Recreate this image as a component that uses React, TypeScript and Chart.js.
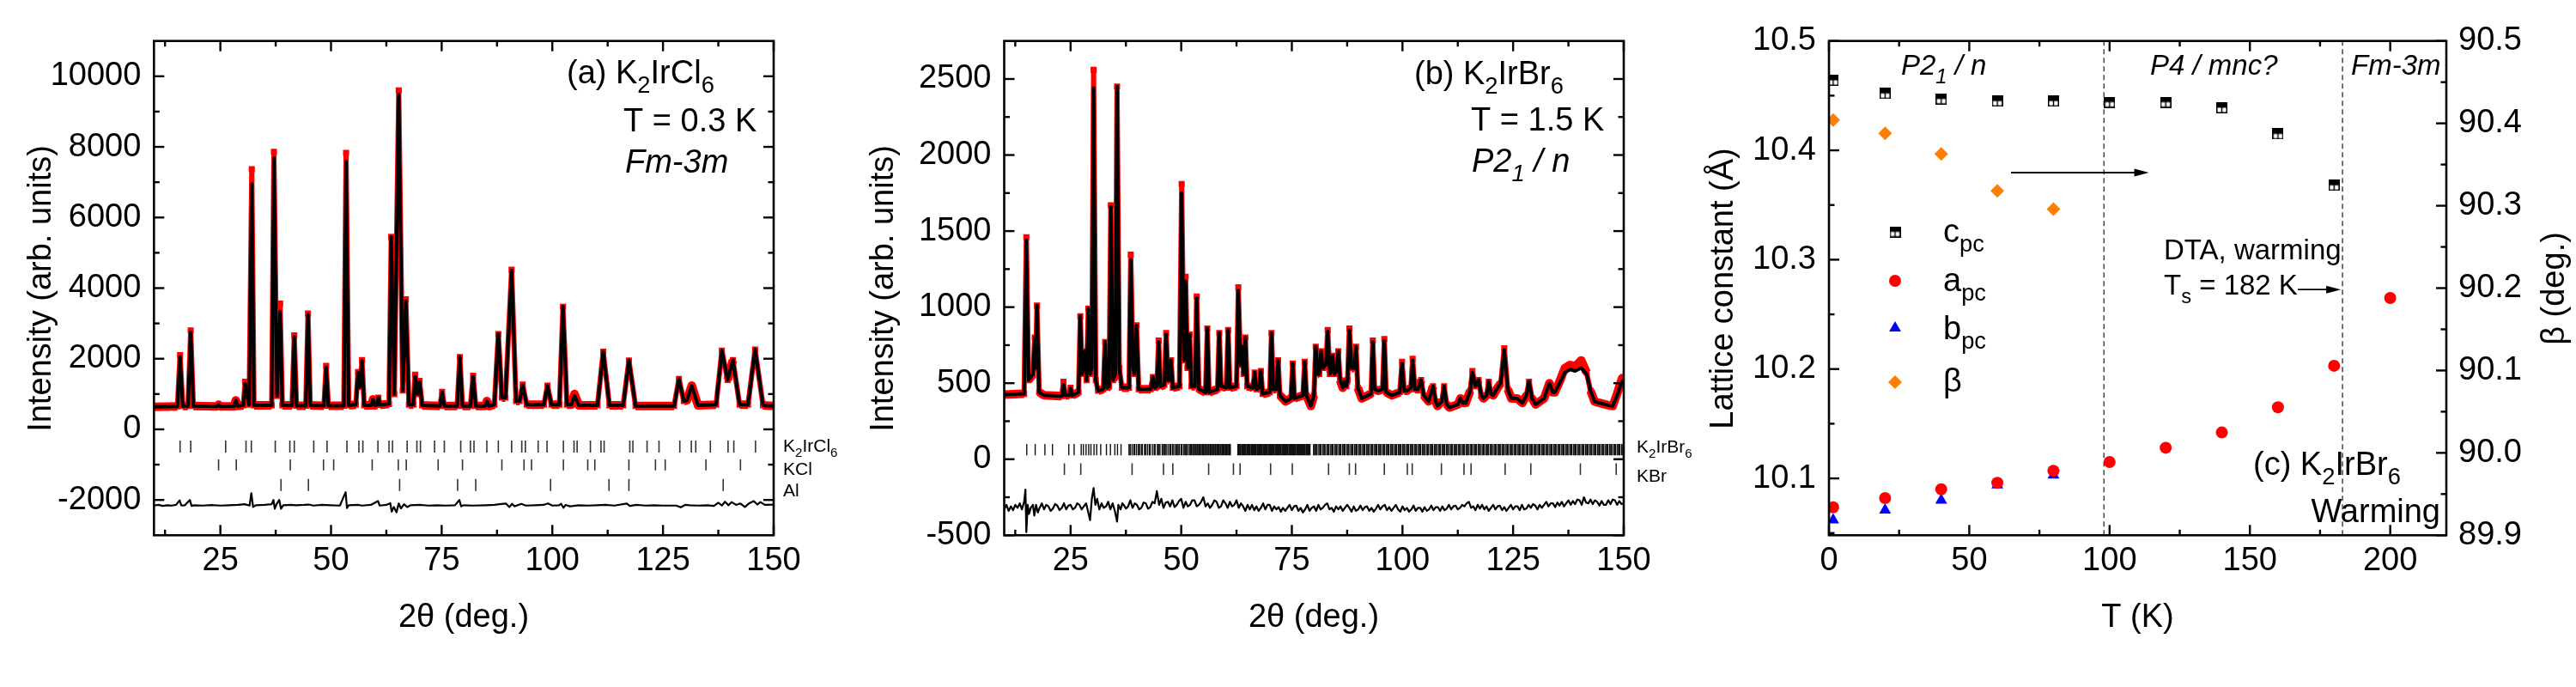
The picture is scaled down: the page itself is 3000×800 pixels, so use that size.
import React, { useEffect, useRef } from "react";
import { Chart, registerables } from "chart.js";
Chart.register(...registerables);

const FONT = "'Liberation Sans', Arimo, Arial, Helvetica, sans-serif";

// ---------------- Panel (a): K2IrCl6, T = 0.3 K ----------------
const calcA: [number, number][] = [
  [10, 640], [15.3, 650], [15.9, 2050], [16.5, 660], [17.7, 660], [18.3, 2750], [18.9, 660],
  [24.2, 650], [24.6, 700], [25.0, 650], [28.1, 650], [28.5, 820], [28.9, 660],
  [30.2, 680], [30.6, 1300], [31.1, 900], [31.5, 700], [32.1, 6950], [32.6, 680],
  [36.6, 680], [37.1, 7680], [37.8, 950], [38.5, 3340], [39.0, 680],
  [41.2, 680], [41.7, 2620], [42.2, 670], [44.3, 670], [44.8, 3250], [45.3, 680],
  [48.4, 670], [48.9, 1750], [49.4, 670], [52.9, 670], [53.4, 7580], [54.0, 680],
  [55.6, 700], [56.1, 1600], [56.5, 1200], [57.0, 1940], [57.5, 680],
  [59.1, 680], [59.5, 850], [59.9, 680], [60.4, 690], [60.7, 900], [61.1, 690],
  [63.1, 720], [63.6, 5450], [64.3, 1000], [65.3, 9480], [66.2, 1100], [66.9, 3640], [67.6, 700],
  [68.6, 700], [69.0, 1500], [69.5, 1000], [70.0, 1350], [70.6, 680],
  [74.6, 660], [75.1, 1050], [75.6, 660], [78.5, 660], [79.1, 2050], [79.7, 660],
  [81.5, 660], [82.1, 1500], [82.7, 660], [84.8, 660], [85.2, 800], [85.7, 660],
  [86.9, 700], [87.8, 2700], [88.6, 900], [89.4, 900], [90.8, 4500], [91.8, 800],
  [92.6, 800], [93.3, 1250], [94.2, 700], [98.1, 700], [98.9, 1230], [99.8, 700],
  [101.6, 700], [102.4, 3470], [103.3, 700], [104.3, 700], [105.0, 950], [106.0, 680],
  [110.2, 680], [111.5, 2200], [112.9, 680], [116.0, 680], [117.3, 1950], [118.8, 660],
  [127.5, 660], [128.6, 1430], [129.7, 800], [130.4, 820], [131.5, 1230], [132.9, 680],
  [137.0, 700], [138.3, 2230], [139.6, 1400], [140.8, 1960], [142.3, 700],
  [144.2, 700], [145.8, 2260], [147.6, 680], [150, 660],
];
const obsA: [number, number][] = [
  [10, 640], [15.3, 650], [15.9, 2100], [16.5, 660], [17.7, 660], [18.3, 2800], [18.9, 660],
  [24.2, 650], [24.6, 700], [25.0, 650], [28.1, 650], [28.5, 820], [28.9, 660],
  [30.2, 680], [30.6, 1350], [31.1, 900], [31.5, 700], [32.1, 7370], [32.6, 680],
  [36.6, 680], [37.1, 7860], [37.8, 950], [38.5, 3560], [39.0, 680],
  [41.2, 680], [41.7, 2660], [42.2, 670], [44.3, 670], [44.8, 3280], [45.3, 680],
  [48.4, 670], [48.9, 1800], [49.4, 670], [52.9, 670], [53.4, 7830], [54.0, 680],
  [55.6, 700], [56.1, 1620], [56.5, 1200], [57.0, 1960], [57.5, 680],
  [59.1, 680], [59.5, 850], [59.9, 680], [60.4, 690], [60.7, 900], [61.1, 690],
  [63.1, 720], [63.6, 5450], [64.3, 1000], [65.3, 9600], [66.2, 1100], [66.9, 3680], [67.6, 700],
  [68.6, 700], [69.0, 1550], [69.5, 1000], [70.0, 1370], [70.6, 680],
  [74.6, 660], [75.1, 1060], [75.6, 660], [78.5, 660], [79.1, 2050], [79.7, 660],
  [81.5, 660], [82.1, 1520], [82.7, 660], [84.8, 660], [85.2, 800], [85.7, 660],
  [86.9, 700], [87.8, 2700], [88.6, 900], [89.4, 900], [90.8, 4520], [91.8, 800],
  [92.6, 800], [93.3, 1270], [94.2, 700], [98.1, 700], [98.9, 1240], [99.8, 700],
  [101.6, 700], [102.4, 3470], [103.3, 700], [104.3, 700], [105.0, 1000], [106.0, 680],
  [110.2, 680], [111.5, 2200], [112.9, 680], [116.0, 680], [117.3, 1950], [118.8, 660],
  [127.5, 660], [128.6, 1430], [129.7, 800], [130.4, 820], [131.5, 1240], [132.9, 680],
  [137.0, 700], [138.3, 2230], [139.6, 1400], [140.8, 1960], [142.3, 700],
  [144.2, 700], [145.8, 2260], [147.6, 680], [150, 660],
];
const diffA: [number, number][] = [
  [10, -2160], [11, -2140], [12, -2170], [13, -2150], [14, -2160], [15, -2140], [15.8, -2010], [16.2, -2160],
  [17, -2150], [18.1, -2000], [18.5, -2170], [19, -2150], [21, -2160], [23, -2145], [25, -2160], [27, -2150],
  [29, -2140], [30.5, -2120], [31.6, -2160], [32.0, -1810], [32.4, -2200], [33, -2150], [35, -2140],
  [36.6, -2120], [37.0, -2000], [37.3, -2250], [37.7, -2120], [38.3, -2000], [38.7, -2250], [39.2, -2150],
  [41, -2140], [42, -2150], [44, -2140], [45, -2130], [46, -2160], [48, -2140], [50, -2150], [52, -2160],
  [53.3, -1780], [53.6, -2230], [54, -2150], [56, -2140], [57, -2160], [59, -2140], [60.6, -2030], [61, -2160],
  [62.5, -2140], [63.4, -2090], [63.7, -2330], [64.2, -2200], [64.8, -2350], [65.3, -2100], [65.8, -2240],
  [66.5, -2120], [67.2, -2200], [68, -2150], [70, -2140], [72, -2160], [74, -2150], [76, -2160], [78, -2150],
  [79, -2000], [79.4, -2180], [80, -2150], [82, -2160], [85, -2150], [87, -2140], [88, -2120], [89.5, -2100],
  [90.3, -2200], [90.9, -2110], [91.5, -2180], [93, -2110], [94, -2160], [96, -2150], [98, -2140], [99, -2100],
  [100, -2160], [101.5, -2150], [102, -2110], [102.5, -2220], [103, -2140], [104, -2180], [106, -2150],
  [108, -2160], [110, -2150], [112, -2140], [114, -2160], [116.8, -2100], [117.5, -2170], [119, -2140],
  [121, -2160], [123, -2150], [125, -2160], [128, -2160], [129, -2210], [130, -2140], [131, -2150], [133, -2160],
  [135, -2150], [136.5, -2170], [137.5, -2080], [138.3, -2160], [139, -2050], [139.8, -2150], [140.5, -2060],
  [141.5, -2140], [142.5, -2100], [143.5, -2200], [144.5, -2090], [145.5, -2030], [146.3, -2130], [147, -2060],
  [148, -2140], [150, -2130],
];
const reflK2IrCl6 = [15.9, 18.3, 26.2, 30.8, 32.0, 37.4, 40.7, 41.7, 46.1, 49.1, 53.6, 56.3, 57.2, 60.6, 63.1, 63.9,
  67.2, 69.4, 70.2, 73.4, 75.6, 79.3, 81.5, 82.3, 85.2, 87.8, 90.8, 93.1, 93.9, 96.8, 98.8, 102.5, 104.9, 105.6,
  108.6, 111.0, 111.7, 117.5, 118.2, 121.4, 124.1, 128.8, 131.4, 132.4, 135.7, 139.7, 141.0, 145.9];
const reflKCl = [24.6, 28.6, 40.8, 48.3, 50.6, 59.3, 65.2, 67.0, 74.2, 79.7, 88.6, 93.6, 95.3, 102.5, 108.0, 109.6,
  117.3, 123.3, 125.5, 134.7, 142.5];
const reflAl = [38.7, 44.9, 65.5, 78.6, 82.7, 99.6, 112.8, 117.3, 138.6];
const xTicks2T = [25, 50, 75, 100, 125, 150];
const xMinor2T = [12.5, 37.5, 62.5, 87.5, 112.5, 137.5];
const yTicksA = [-2000, 0, 2000, 4000, 6000, 8000, 10000];
const yMinorA = [-1000, 1000, 3000, 5000, 7000, 9000];

// ---------------- Panel (b): K2IrBr6, T = 1.5 K ----------------
const calcB: [number, number][] = [
  [10, 425], [14.5, 430], [15.0, 1440], [15.5, 520], [16.5, 560], [16.9, 800], [17.1, 600], [17.4, 1010], [17.9, 440],
  [19.0, 420], [23.0, 415], [23.4, 490], [23.8, 420], [24.7, 420], [25.0, 465], [25.4, 420], [26.8, 440], [27.2, 940],
  [27.6, 560], [28.2, 710], [28.6, 520], [29.0, 990], [29.4, 560], [29.8, 600], [30.2, 2440], [30.7, 520], [31.2, 450],
  [32.4, 460], [32.8, 770], [33.2, 470], [33.7, 480], [34.1, 1660], [34.6, 520], [35.1, 560], [35.5, 2450], [36.0, 600],
  [36.6, 470], [38.2, 470], [38.6, 1310], [39.1, 600], [39.4, 560], [39.9, 880], [40.4, 460], [43.1, 460], [43.6, 540],
  [44.0, 470], [44.5, 480], [44.9, 770], [45.3, 480], [46.2, 490], [46.6, 820], [47.0, 520], [47.3, 520], [47.7, 650],
  [48.1, 470], [49.6, 480], [50.1, 1750], [50.6, 650], [51.0, 1170], [51.4, 600], [51.9, 820], [52.3, 480], [53.1, 480],
  [53.5, 1060], [54.0, 460], [55.5, 440], [55.9, 860], [56.3, 440], [58.2, 460], [58.6, 830], [59.0, 480], [60.2, 470],
  [60.6, 850], [61.0, 470], [62.5, 480], [62.9, 1110], [63.4, 620], [63.7, 740], [64.1, 560], [64.5, 800], [64.9, 480],
  [66.2, 470], [66.6, 570], [67.0, 460], [67.6, 470], [68.0, 580], [68.4, 430], [70.0, 440], [70.4, 830], [70.8, 460],
  [71.5, 460], [71.9, 650], [72.3, 420], [73.6, 380], [74.8, 400], [75.2, 630], [75.6, 400], [77.5, 420], [77.9, 640],
  [78.3, 420], [79.3, 350], [80.0, 420], [80.4, 740], [80.9, 560], [81.2, 560], [81.6, 710], [82.0, 600], [82.7, 620],
  [83.1, 840], [83.6, 560], [83.9, 580], [84.2, 680], [84.6, 560], [85.1, 580], [85.5, 710], [85.9, 520], [86.5, 470],
  [86.9, 510], [87.3, 480], [87.6, 520], [88.0, 850], [88.5, 600], [89.1, 600], [89.5, 740], [89.9, 470], [90.8, 400],
  [92.9, 430], [93.3, 770], [93.7, 460], [94.5, 450], [95.5, 460], [95.9, 780], [96.3, 440], [97.6, 420], [99.4, 440],
  [99.9, 630], [100.4, 450], [101.0, 450], [101.9, 470], [102.3, 650], [102.8, 460], [103.5, 460], [104.2, 520],
  [104.8, 420], [105.9, 380], [106.9, 480], [107.5, 380], [107.9, 350], [108.9, 380], [109.4, 480], [110.0, 360],
  [110.6, 340], [112.5, 360], [113.1, 400], [113.7, 370], [114.3, 370], [115.3, 450], [115.8, 570], [116.5, 480],
  [117.2, 520], [117.8, 420], [118.3, 400], [119.0, 420], [119.5, 510], [120.0, 430], [120.5, 420], [121.5, 470],
  [122.2, 500], [123.0, 720], [123.8, 460], [124.6, 400], [125.9, 400], [127.1, 370], [128.0, 420], [128.6, 510],
  [129.3, 400], [130.1, 360], [132.0, 400], [133.2, 500], [134.0, 440], [134.4, 440], [135.5, 500], [136.7, 570],
  [137.9, 590], [139.0, 580], [140.4, 600], [141.0, 580], [141.6, 560], [142.5, 450], [143.4, 380], [144.5, 370],
  [146.5, 355], [147.5, 350], [148.5, 420], [149.6, 510], [150, 520],
];
const obsB: [number, number][] = [
  [10, 425], [14.5, 430], [15.0, 1460], [15.5, 520], [16.5, 560], [16.9, 800], [17.1, 600], [17.4, 1010], [17.9, 440],
  [19.0, 420], [23.0, 415], [23.4, 510], [23.8, 420], [24.7, 420], [25.0, 470], [25.4, 420], [26.8, 440], [27.2, 940],
  [27.6, 560], [28.2, 710], [28.6, 520], [29.0, 990], [29.4, 560], [29.8, 600], [30.2, 2560], [30.7, 520], [31.2, 450],
  [32.4, 460], [32.8, 770], [33.2, 470], [33.7, 480], [34.1, 1670], [34.6, 520], [35.1, 560], [35.5, 2450], [36.0, 600],
  [36.6, 470], [38.2, 470], [38.6, 1345], [39.1, 600], [39.4, 560], [39.9, 880], [40.4, 460], [43.1, 460], [43.6, 540],
  [44.0, 470], [44.5, 480], [44.9, 780], [45.3, 480], [46.2, 490], [46.6, 830], [47.0, 520], [47.3, 520], [47.7, 650],
  [48.1, 470], [49.6, 480], [50.1, 1810], [50.6, 650], [51.0, 1200], [51.4, 600], [51.9, 820], [52.3, 480], [53.1, 480],
  [53.5, 1070], [54.0, 460], [55.5, 440], [55.9, 860], [56.3, 440], [58.2, 460], [58.6, 830], [59.0, 480], [60.2, 470],
  [60.6, 850], [61.0, 470], [62.5, 480], [62.9, 1130], [63.4, 620], [63.7, 740], [64.1, 560], [64.5, 800], [64.9, 480],
  [66.2, 470], [66.6, 570], [67.0, 460], [67.6, 470], [68.0, 580], [68.4, 430], [70.0, 440], [70.4, 830], [70.8, 460],
  [71.5, 460], [71.9, 650], [72.3, 420], [73.6, 380], [74.8, 400], [75.2, 630], [75.6, 400], [77.5, 420], [77.9, 640],
  [78.3, 420], [79.3, 350], [80.0, 420], [80.4, 740], [80.9, 560], [81.2, 560], [81.6, 710], [82.0, 600], [82.7, 620],
  [83.1, 850], [83.6, 560], [83.9, 580], [84.2, 680], [84.6, 560], [85.1, 580], [85.5, 710], [85.9, 520], [86.5, 470],
  [86.9, 510], [87.3, 480], [87.6, 520], [88.0, 860], [88.5, 600], [89.1, 600], [89.5, 740], [89.9, 470], [90.8, 400],
  [92.9, 430], [93.3, 780], [93.7, 460], [94.5, 450], [95.5, 460], [95.9, 790], [96.3, 440], [97.6, 420], [99.4, 440],
  [99.9, 640], [100.4, 450], [101.0, 450], [101.9, 470], [102.3, 660], [102.8, 460], [103.5, 460], [104.2, 520],
  [104.8, 420], [105.9, 380], [106.9, 480], [107.5, 380], [107.9, 350], [108.9, 380], [109.4, 480], [110.0, 360],
  [110.6, 340], [112.5, 360], [113.1, 400], [113.7, 370], [114.3, 370], [115.3, 450], [115.8, 580], [116.5, 480],
  [117.2, 520], [117.8, 420], [118.3, 400], [119.0, 420], [119.5, 510], [120.0, 430], [120.5, 420], [121.5, 470],
  [122.2, 500], [123.0, 730], [123.8, 460], [124.6, 400], [125.9, 400], [127.1, 370], [128.0, 420], [128.6, 510],
  [129.3, 400], [130.1, 360], [132.0, 400], [133.2, 500], [134.0, 440], [134.4, 440], [135.5, 510], [136.7, 600],
  [137.9, 620], [139.0, 610], [140.4, 650], [141.0, 610], [141.6, 570], [142.5, 450], [143.4, 380], [144.5, 370],
  [146.5, 355], [147.5, 350], [148.5, 430], [149.6, 530], [150, 540],
];
const diffB: [number, number][] = [
  [10, -330], [10.5, -300], [11, -340], [11.5, -310], [12, -335], [12.5, -300], [13, -320], [13.5, -290], [14, -330],
  [14.5, -280], [14.8, -200], [15.0, -480], [15.3, -300], [15.6, -360], [16, -320], [16.5, -300], [16.8, -370],
  [17.2, -300], [17.6, -350], [18, -320], [18.5, -290], [19, -330], [19.5, -300], [20, -310], [20.5, -340], [21, -325],
  [21.5, -295], [22, -305], [22.5, -335], [23, -320], [23.5, -290], [24, -330], [24.5, -305], [25, -300], [25.5, -330],
  [26, -320], [26.5, -290], [27, -300], [27.5, -330], [28, -310], [28.5, -290], [29, -350], [29.4, -400],
  [29.8, -260], [30.2, -190], [30.6, -300], [31, -260], [31.5, -330], [32, -290], [32.5, -320], [33, -310], [33.5, -280],
  [34, -330], [34.5, -290], [35, -340], [35.5, -410], [35.8, -300], [36.3, -330], [36.7, -290], [37, -300], [37.5, -325],
  [38, -310], [38.5, -270], [39, -320], [39.5, -290], [40, -300], [40.5, -330], [41, -320], [41.5, -285], [42, -290],
  [42.5, -325], [43, -315], [43.5, -280], [44, -290], [44.5, -210], [45, -300], [45.5, -260], [46, -320], [46.5, -285],
  [47, -280], [47.5, -310], [48, -270], [48.5, -315], [49, -300], [49.5, -275], [50, -260], [50.5, -320], [51, -280],
  [51.5, -310], [52, -300], [52.5, -270], [53, -270], [53.5, -310], [54, -300], [54.5, -280], [55, -250], [55.5, -310],
  [56, -290], [56.5, -320], [57, -300], [57.5, -270], [58, -280], [58.5, -320], [59, -310], [59.5, -270], [60, -290],
  [60.5, -320], [61, -280], [61.5, -310], [62, -300], [62.5, -270], [63, -320], [63.5, -290], [64, -310], [64.5, -340],
  [65, -300], [65.5, -330], [66, -300], [66.5, -335], [67, -310], [67.5, -340], [68, -320], [68.5, -290], [69, -330],
  [69.5, -300], [70, -300], [70.5, -340], [71, -310], [71.5, -330], [72, -315], [72.5, -345], [73, -320], [73.5, -340],
  [74, -320], [74.5, -300], [75, -335], [75.5, -310], [76, -305], [76.5, -340], [77, -320], [77.5, -350], [78, -330],
  [78.5, -300], [79, -340], [79.5, -320], [80, -310], [80.5, -340], [81, -300], [81.5, -330], [82, -320], [82.5, -300],
  [83, -290], [83.5, -330], [84, -320], [84.5, -345], [85, -310], [85.5, -330], [86, -310], [86.5, -340], [87, -320],
  [87.5, -300], [88, -320], [88.5, -345], [89, -310], [89.5, -340], [90, -330], [90.5, -305], [91, -335], [91.5, -315],
  [92, -310], [92.5, -340], [93, -320], [93.5, -345], [94, -325], [94.5, -300], [95, -330], [95.5, -310], [96, -300],
  [96.5, -335], [97, -315], [97.5, -340], [98, -320], [98.5, -300], [99, -330], [99.5, -345], [100, -310],
  [100.5, -335], [101, -320], [101.5, -345], [102, -330], [102.5, -305], [103, -340], [103.5, -320], [104, -320],
  [104.5, -345], [105, -315], [105.5, -340], [106, -330], [106.5, -305], [107, -335], [107.5, -315], [108, -315],
  [108.5, -340], [109, -310], [109.5, -335], [110, -325], [110.5, -300], [111, -330], [111.5, -310], [112, -305],
  [112.5, -330], [113, -320], [113.5, -300], [114, -310], [114.5, -290], [115, -280], [115.5, -320], [116, -310],
  [116.5, -335], [117, -300], [117.5, -325], [118, -300], [118.5, -330], [119, -310], [119.5, -340], [120, -320],
  [120.5, -300], [121, -330], [121.5, -310], [122, -305], [122.5, -335], [123, -315], [123.5, -340], [124, -320],
  [124.5, -300], [125, -330], [125.5, -310], [126, -310], [126.5, -335], [127, -300], [127.5, -330], [128, -325],
  [128.5, -300], [129, -320], [129.5, -295], [130, -305], [130.5, -330], [131, -300], [131.5, -320], [132, -300],
  [132.5, -280], [133, -310], [133.5, -290], [134, -290], [134.5, -315], [135, -285], [135.5, -305], [136, -280],
  [136.5, -310], [137, -290], [137.5, -270], [138, -300], [138.5, -275], [139, -295], [139.5, -265], [140, -270],
  [140.5, -300], [141, -250], [141.5, -285], [142, -290], [142.5, -265], [143, -295], [143.5, -270], [144, -280],
  [144.5, -305], [145, -275], [145.5, -300], [146, -300], [146.5, -270], [147, -295], [147.5, -265], [148, -270],
  [148.5, -300], [149, -275], [149.5, -295], [150, -290],
];
const reflK2IrBr6 = [15.1, 17.0, 19.2, 20.9, 24.6, 25.8, 27.4, 27.9, 28.5, 29.1, 29.6, 30.3, 30.9, 31.8, 33.1, 34.0,
  35.0, 35.6, 36.4, 38.2, 38.5, 38.9, 39.3, 39.5, 39.9, 40.3, 40.6, 41.0, 41.2, 41.7, 42.0, 42.4, 42.8, 43.0, 43.5,
  43.9, 44.1, 44.6, 44.9, 45.2, 45.7, 46.0, 46.3, 46.6, 47.0, 47.4, 47.6, 48.0, 48.3, 48.7, 49.0, 49.3, 49.6, 50.0,
  50.2, 50.6, 50.9, 51.2, 51.4, 51.8, 52.1, 52.3, 52.6, 52.9, 53.2, 53.4, 53.7, 54.0, 54.2, 54.5, 54.8, 55.0, 55.3,
  55.5, 55.8, 56.1, 56.3, 56.6, 56.8, 57.1, 57.3, 57.6, 57.8, 58.1, 58.3, 58.5, 58.8, 59.0, 59.3, 59.5, 59.7, 60.0,
  60.2, 60.4, 60.7, 60.9, 61.1, 62.8, 63.0, 63.2, 63.4, 63.7, 63.9, 64.1, 64.3, 64.5, 64.8, 65.0, 65.2, 65.4, 65.6,
  65.9, 66.1, 66.3, 66.5, 66.7, 66.9, 67.2, 67.4, 67.6, 67.8, 68.0, 68.2, 68.5, 68.7, 68.9, 69.1, 69.3, 69.5, 69.8,
  70.0, 70.2, 70.4, 70.6, 70.8, 71.0, 71.3, 71.5, 71.7, 71.9, 72.1, 72.3, 72.5, 72.8, 73.0, 73.2, 73.4, 73.6, 73.8,
  74.0, 74.3, 74.5, 74.7, 74.9, 75.1, 75.3, 75.5, 75.7, 75.9, 76.2, 76.4, 76.6, 76.8, 77.0, 77.2, 77.4, 77.6, 77.8,
  78.0, 78.3, 78.5, 78.7, 78.9, 79.1, 79.9, 80.2, 80.5, 80.7, 81.1, 81.4, 81.6, 82.0, 82.3, 82.5, 82.9, 83.2, 83.4,
  83.8, 84.1, 84.3, 84.7, 85.0, 85.2, 85.6, 85.9, 86.1, 86.5, 86.8, 87.0, 87.4, 87.7, 87.9, 88.3, 88.6, 88.8, 89.2,
  89.5, 89.7, 90.1, 90.4, 90.6, 91.0, 91.3, 91.5, 91.9, 92.2, 92.4, 92.8, 93.1, 93.3, 93.7, 94.0, 94.2, 94.6, 94.9,
  95.1, 95.5, 95.8, 96.0, 96.4, 96.7, 96.9, 97.3, 97.6, 97.8, 98.2, 98.5, 98.7, 99.1, 99.4, 99.6, 100.0, 100.3,
  100.5, 100.9, 101.2, 101.4, 101.8, 102.1, 102.3, 102.7, 103.0, 103.2, 103.6, 103.9, 104.1, 104.5, 104.8, 105.0,
  105.4, 105.7, 105.9, 106.3, 106.6, 106.8, 107.2, 107.5, 107.7, 108.1, 108.4, 108.6, 109.0, 109.3, 109.5, 109.9,
  110.2, 110.4, 110.8, 111.1, 111.3, 111.7, 112.0, 112.2, 112.6, 112.9, 113.1, 113.5, 113.8, 114.0, 114.4, 114.7,
  114.9, 115.3, 115.6, 115.8, 116.2, 116.5, 116.7, 117.1, 117.4, 117.6, 118.0, 118.3, 118.5, 118.9, 119.2, 119.4,
  119.8, 120.1, 120.3, 120.7, 121.0, 121.2, 121.6, 121.9, 122.1, 122.5, 122.8, 123.0, 123.4, 123.7, 123.9, 124.3,
  124.6, 124.8, 125.2, 125.5, 125.7, 126.1, 126.4, 126.6, 127.0, 127.3, 127.5, 127.9, 128.2, 128.4, 128.8, 129.1,
  129.3, 129.7, 130.0, 130.2, 130.6, 130.9, 131.1, 131.5, 131.8, 132.0, 132.4, 132.7, 132.9, 133.3, 133.6, 133.8,
  134.2, 134.5, 134.7, 135.1, 135.4, 135.6, 136.0, 136.3, 136.5, 136.9, 137.2, 137.4, 137.8, 138.1, 138.3, 138.7,
  139.0, 139.2, 139.6, 139.9, 140.1, 140.5, 140.8, 141.0, 141.4, 141.7, 141.9, 142.3, 142.6, 142.8, 143.2, 143.5,
  143.7, 144.1, 144.4, 144.6, 145.0, 145.3, 145.5, 145.9, 146.2, 146.4, 146.8, 147.1, 147.3, 147.7, 148.0, 148.2,
  148.6, 148.9, 149.1, 149.5, 149.8];
const reflKBr = [23.6, 27.3, 38.9, 46.0, 48.1, 56.2, 61.8, 63.3, 70.2, 75.1, 83.3, 88.0, 89.4, 95.9, 101.1, 102.2,
  108.8, 113.9, 115.5, 123.2, 129.0, 140.2, 148.3];
const yTicksB = [-500, 0, 500, 1000, 1500, 2000, 2500];
const yMinorB = [-250, 250, 750, 1250, 1750, 2250];

// ---------------- Panel (c): K2IrBr6 lattice constants vs T ----------------
const tempsC = [1.5, 20, 40, 60, 80, 100, 120, 140, 160, 180, 200];
const cPc = [10.464, 10.452, 10.447, 10.445, 10.445, 10.444, 10.444, 10.439, 10.415, 10.368];
const aPc = [10.0736, 10.082, 10.09, 10.096, 10.107, 10.115, 10.128, 10.142, 10.165, 10.203, 10.265];
const bPc = [10.062, 10.071, 10.08, 10.094, 10.103];
const betaDeg = [90.404, 90.388, 90.363, 90.318, 90.296];
const phaseBoundaries = [98, 183];
const xTicksC = [0, 50, 100, 150, 200];
const xMinorC = [25, 75, 125, 175];
const yTicksC = [10.1, 10.2, 10.3, 10.4, 10.5];
const yMinorC = [10.05, 10.15, 10.25, 10.35, 10.45];
const y2TicksC = [89.9, 90.0, 90.1, 90.2, 90.3, 90.4, 90.5];
const y2MinorC = [89.95, 90.05, 90.15, 90.25, 90.35, 90.45];

// ---------------- helpers ----------------
const pts = (a: [number, number][]) => a.map(([x, y]) => ({ x, y }));
const tickRow = (pos: number[], lo: number, hi: number) =>
  pos.flatMap((p) => [{ x: p, y: lo }, { x: p, y: hi }, { x: p, y: null as any }]);
const series = (xs: number[], ys: number[]) => ys.map((y, i) => ({ x: xs[i], y }));

function line(data: any[], color: string, width: number, order: number, extra: any = {}) {
  return {
    data, borderColor: color, backgroundColor: color, borderWidth: width, pointRadius: 0,
    fill: false, tension: 0, borderJoinStyle: "round", order, spanGaps: false, ...extra,
  };
}

// observed pattern: thick red band along flat parts, thinner on the steep peak flanks
function obsLine(data: any[]) {
  return line(data, "#ff0000", 10, 5, {
    pointRadius: 5, pointStyle: "rect", pointBorderWidth: 0,
    segment: {
      borderWidth: (c: any) =>
        Math.abs(c.p1.y - c.p0.y) > 4 * Math.abs(c.p1.x - c.p0.x) ? 6 : 10,
    },
  });
}

function xScale(min: number, max: number, ticks: number[]) {
  return {
    type: "linear", position: "bottom", min, max,
    afterBuildTicks: (s: any) => { s.ticks = ticks.map((v) => ({ value: v })); },
    afterFit: (s: any) => { s.height = 176.7; },
    grid: { display: false, drawTicks: false }, border: { display: false },
    ticks: { color: "#000", font: { family: FONT, size: 38 }, padding: 7, maxRotation: 0, autoSkip: false,
      callback: (v: any) => String(v) },
  };
}
function yScale(min: number, max: number, ticks: number[], width: number, position: string, digits: number | null, padding = 15) {
  return {
    type: "linear", position, min, max,
    afterBuildTicks: (s: any) => { s.ticks = ticks.map((v) => ({ value: v })); },
    afterFit: (s: any) => { s.width = width; },
    grid: { display: false, drawTicks: false }, border: { display: false },
    ticks: { color: "#000", font: { family: FONT, size: 38 }, padding, autoSkip: false,
      callback: (v: any) => (digits == null ? String(v) : Number(v).toFixed(digits)) },
  };
}

function halfSquare(): HTMLCanvasElement {
  const s = 13;
  const c = document.createElement("canvas");
  c.width = s; c.height = s;
  const g = c.getContext("2d")!;
  g.fillStyle = "#fff"; g.fillRect(0, 0, s, s);
  g.fillStyle = "#000"; g.fillRect(0, 0, s, 6.5);
  g.strokeStyle = "#000"; g.lineWidth = 1.5;
  g.strokeRect(0.75, 0.75, s - 1.5, s - 1.5);
  g.beginPath(); g.moveTo(s / 2, 6); g.lineTo(s / 2, s); g.stroke();
  return c;
}

function parseRich(t: string) {
  const out: { t: string; sub: boolean }[] = [];
  const re = /_\{([^}]*)\}/g;
  let last = 0; let m;
  while ((m = re.exec(t))) {
    if (m.index > last) out.push({ t: t.slice(last, m.index), sub: false });
    out.push({ t: m[1], sub: true });
    last = m.index + m[0].length;
  }
  if (last < t.length) out.push({ t: t.slice(last), sub: false });
  return out;
}

function drawRich(ctx: CanvasRenderingContext2D, it: any) {
  const size = it.size || 38;
  const parts = parseRich(it.text);
  const font = (sub: boolean) => `${it.italic ? "italic " : ""}${sub ? size * 0.72 : size}px ${FONT}`;
  let w = 0;
  for (const p of parts) { ctx.font = font(p.sub); w += ctx.measureText(p.t).width; }
  ctx.save();
  ctx.translate(it.x, it.y);
  if (it.rot) ctx.rotate(-Math.PI / 2);
  ctx.fillStyle = "#000"; ctx.textBaseline = "alphabetic"; ctx.textAlign = "left";
  let cx = it.align === "center" ? -w / 2 : it.align === "right" ? -w : 0;
  for (const p of parts) {
    ctx.font = font(p.sub);
    ctx.fillText(p.t, cx, p.sub ? size * 0.3 : 0);
    cx += ctx.measureText(p.t).width;
  }
  ctx.restore();
}

function drawMarker(ctx: CanvasRenderingContext2D, kind: string, x: number, y: number, img?: HTMLCanvasElement) {
  ctx.save();
  if (kind === "img" && img) { ctx.drawImage(img, x - img.width / 2, y - img.height / 2); ctx.restore(); return; }
  ctx.beginPath();
  if (kind === "circle") { ctx.fillStyle = "#ff0000"; ctx.arc(x, y, 7, 0, Math.PI * 2); }
  if (kind === "triangle") {
    ctx.fillStyle = "#0000ff"; const r = 8;
    ctx.moveTo(x, y - r); ctx.lineTo(x + r * 0.866, y + r * 0.5); ctx.lineTo(x - r * 0.866, y + r * 0.5); ctx.closePath();
  }
  if (kind === "diamond") {
    ctx.fillStyle = "#ff8000"; const r = 8;
    ctx.moveTo(x - r, y); ctx.lineTo(x, y - r); ctx.lineTo(x + r, y); ctx.lineTo(x, y + r); ctx.closePath();
  }
  ctx.fill();
  ctx.restore();
}

const MAJ = 12, MIN = 6.5;
const decorPlugin = {
  id: "decor",
  afterDraw(chart: any) {
    const o = chart.options.plugins.decor;
    if (!o) return;
    const ctx: CanvasRenderingContext2D = chart.ctx;
    const a = chart.chartArea;
    const seg = (x1: number, y1: number, x2: number, y2: number) => {
      ctx.beginPath(); ctx.moveTo(x1, y1); ctx.lineTo(x2, y2); ctx.stroke();
    };
    ctx.save();
    ctx.strokeStyle = "#000"; ctx.lineWidth = 2.4; ctx.lineCap = "butt";
    const xs = chart.scales.x, ys = chart.scales.y, y2 = chart.scales.y2;
    ([[o.xMaj, MAJ], [o.xMin, MIN]] as [number[], number][]).forEach(([list, len]) => list.forEach((v) => {
      const p = xs.getPixelForValue(v);
      seg(p, a.bottom, p, a.bottom - len); seg(p, a.top, p, a.top + len);
    }));
    ([[o.yMaj, MAJ], [o.yMin, MIN]] as [number[], number][]).forEach(([list, len]) => list.forEach((v) => {
      const p = ys.getPixelForValue(v);
      seg(a.left, p, a.left + len, p);
      if (o.mirror) seg(a.right, p, a.right - len, p);
    }));
    if (y2 && o.y2Maj) {
      ([[o.y2Maj, MAJ], [o.y2Min, MIN]] as [number[], number][]).forEach(([list, len]) => list.forEach((v) => {
        const p = y2.getPixelForValue(v);
        seg(a.right, p, a.right - len, p);
      }));
    }
    ctx.lineWidth = 2.6;
    ctx.strokeRect(a.left, a.top, a.right - a.left, a.bottom - a.top);
    (o.arrows || []).forEach((ar: any) => {
      const x1 = xs.getPixelForValue(ar.x1), x2 = xs.getPixelForValue(ar.x2);
      const yy1 = ys.getPixelForValue(ar.y1), yy2 = ys.getPixelForValue(ar.y2);
      ctx.lineWidth = 1.8;
      const L = 17, H = 4.5;
      const ang = Math.atan2(yy2 - yy1, x2 - x1);
      seg(x1, yy1, x2 - Math.cos(ang) * L * 0.8, yy2 - Math.sin(ang) * L * 0.8);
      ctx.save(); ctx.translate(x2, yy2); ctx.rotate(ang);
      ctx.fillStyle = "#000"; ctx.beginPath(); ctx.moveTo(0, 0); ctx.lineTo(-L, -H); ctx.lineTo(-L, H); ctx.closePath(); ctx.fill();
      ctx.restore();
    });
    (o.legend || []).forEach((lg: any) => drawMarker(ctx, lg.kind, lg.mx, lg.my, lg.img));
    (o.texts || []).forEach((t: any) => drawRich(ctx, t));
    ctx.restore();
  },
};

function baseOptions(padding: any, scales: any, decor: any) {
  return {
    responsive: false, animation: false, devicePixelRatio: 1, events: [],
    layout: { padding },
    scales,
    plugins: { legend: { display: false }, tooltip: { enabled: false }, decor },
  };
}

function configA(): any {
  return {
    type: "line",
    data: {
      datasets: [
        line(pts(calcA), "#000", 4, 0),
        line(pts(diffA), "#000", 2.2, 0),
        line(tickRow(reflK2IrCl6, -655, -316), "#333", 1.6, 0),
        line(tickRow(reflKCl, -1165, -850), "#333", 1.6, 0),
        line(tickRow(reflAl, -1748, -1408), "#333", 1.6, 0),
        obsLine(pts(obsA)),
      ],
    },
    options: baseOptions({ left: 0, right: 3000 - 901, top: 47.7, bottom: 0 }, {
      x: xScale(10, 150, xTicks2T),
      y: yScale(-3000, 11000, yTicksA, 179.3, "left", null),
    }, {
      xMaj: xTicks2T, xMin: xMinor2T, yMaj: yTicksA, yMin: yMinorA, mirror: true,
      texts: [
        { text: "(a) K_{2}IrCl_{6}", x: 660, y: 97 },
        { text: "T = 0.3 K", x: 726, y: 153 },
        { text: "Fm-3m", x: 728, y: 201, italic: true },
        { text: "K_{2}IrCl_{6}", x: 912, y: 526, size: 21 },
        { text: "KCl", x: 912, y: 553, size: 21 },
        { text: "Al", x: 912, y: 578, size: 21 },
        { text: "Intensity (arb. units)", x: 59, y: 336, rot: true, align: "center" },
        { text: "2θ (deg.)", x: 540, y: 730, align: "center" },
      ],
    }),
    plugins: [decorPlugin],
  };
}

function configB(): any {
  return {
    type: "line",
    data: {
      datasets: [
        line(pts(calcB), "#000", 4, 0),
        line(pts(diffB), "#000", 2.2, 0),
        line(tickRow(reflK2IrBr6, 25, 100), "#111", 1.4, 0),
        line(tickRow(reflKBr, -103, -27), "#333", 1.6, 0),
        obsLine(pts(obsB)),
      ],
    },
    options: baseOptions({ left: 1000, right: 3000 - 1891, top: 47.7, bottom: 0 }, {
      x: xScale(10, 150, xTicks2T),
      y: yScale(-500, 2750, yTicksB, 169.5, "left", null),
    }, {
      xMaj: xTicks2T, xMin: xMinor2T, yMaj: yTicksB, yMin: yMinorB, mirror: true,
      texts: [
        { text: "(b) K_{2}IrBr_{6}", x: 1647, y: 98 },
        { text: "T = 1.5 K", x: 1713, y: 152 },
        { text: "P2_{1} / n", x: 1714, y: 200, italic: true },
        { text: "K_{2}IrBr_{6}", x: 1906, y: 527, size: 21 },
        { text: "KBr", x: 1906, y: 561, size: 21 },
        { text: "Intensity (arb. units)", x: 1040, y: 336, rot: true, align: "center" },
        { text: "2θ (deg.)", x: 1530, y: 730, align: "center" },
      ],
    }),
    plugins: [decorPlugin],
  };
}

function configC(): any {
  const img = halfSquare();
  const pt = (extra: any) => ({ showLine: false, borderWidth: 0, ...extra });
  return {
    type: "line",
    data: {
      datasets: [
        line(series(tempsC, aPc), "#ff0000", 0, 0, pt({ pointRadius: 7, pointStyle: "circle", pointBorderWidth: 0 })),
        line(series(tempsC, bPc), "#0000ff", 0, 1, pt({ pointRadius: 8, pointStyle: "triangle", pointBorderWidth: 0 })),
        line(series(tempsC, cPc), "#000", 0, 1, pt({ pointRadius: 7, pointStyle: img })),
        line(series(tempsC, betaDeg), "#ff8000", 0, 1, pt({ pointRadius: 8, pointStyle: "rectRot", pointBorderWidth: 0, yAxisID: "y2" })),
        ...phaseBoundaries.map((t) =>
          line([{ x: t, y: 10.048 }, { x: t, y: 10.5 }], "#444", 1.5, 3, { borderDash: [6, 4] })),
      ],
    },
    options: baseOptions({ left: 1950, right: 21, top: 47.7, bottom: 0 }, {
      x: xScale(0, 220, xTicksC),
      y: yScale(10.048, 10.5, yTicksC, 180, "left", 1),
      y2: yScale(89.9, 90.5, y2TicksC, 130, "right", 1, 14),
    }, {
      xMaj: xTicksC, xMin: xMinorC, yMaj: yTicksC, yMin: yMinorC, y2Maj: y2TicksC, y2Min: y2MinorC, mirror: false,
      arrows: [
        { x1: 64.9, y1: 10.3796, x2: 114.0, y2: 10.3796 },
        { x1: 167.1, y1: 10.2727, x2: 182.4, y2: 10.2727 },
      ],
      legend: [
        { kind: "img", img, mx: 2207, my: 270 },
        { kind: "circle", mx: 2207, my: 327 },
        { kind: "triangle", mx: 2207, my: 382 },
        { kind: "diamond", mx: 2207, my: 445 },
      ],
      texts: [
        { text: "c_{pc}", x: 2263, y: 282 },
        { text: "a_{pc}", x: 2263, y: 339 },
        { text: "b_{pc}", x: 2263, y: 395 },
        { text: "β", x: 2263, y: 456 },
        { text: "P2_{1} / n", x: 2214, y: 87, italic: true, size: 33 },
        { text: "P4 / mnc?", x: 2504, y: 87, italic: true, size: 33 },
        { text: "Fm-3m", x: 2738, y: 87, italic: true, size: 33 },
        { text: "DTA, warming", x: 2520, y: 302, size: 33 },
        { text: "T_{s} = 182 K", x: 2520, y: 343, size: 33 },
        { text: "(c) K_{2}IrBr_{6}", x: 2624, y: 553 },
        { text: "Warming", x: 2842, y: 608, align: "right" },
        { text: "Lattice constant (Å)", x: 2018, y: 336, rot: true, align: "center" },
        { text: "β (deg.)", x: 2986, y: 336, rot: true, align: "center" },
        { text: "T (K)", x: 2489.5, y: 730, align: "center" },
      ],
    }),
    plugins: [decorPlugin],
  };
}

export default function App() {
  const ra = useRef<HTMLCanvasElement>(null);
  const rb = useRef<HTMLCanvasElement>(null);
  const rc = useRef<HTMLCanvasElement>(null);
  useEffect(() => {
    const charts = [
      new Chart(ra.current!, configA()),
      new Chart(rb.current!, configB()),
      new Chart(rc.current!, configC()),
    ];
    return () => charts.forEach((c) => c.destroy());
  }, []);
  const cs: React.CSSProperties = { position: "absolute", left: 0, top: 0, width: 3000, height: 800 };
  return (
    <div style={{ position: "absolute", left: 0, top: 0, width: 3000, height: 800, background: "#fff" }}>
      <canvas ref={ra} width={3000} height={800} style={cs} />
      <canvas ref={rb} width={3000} height={800} style={cs} />
      <canvas ref={rc} width={3000} height={800} style={cs} />
    </div>
  );
}
